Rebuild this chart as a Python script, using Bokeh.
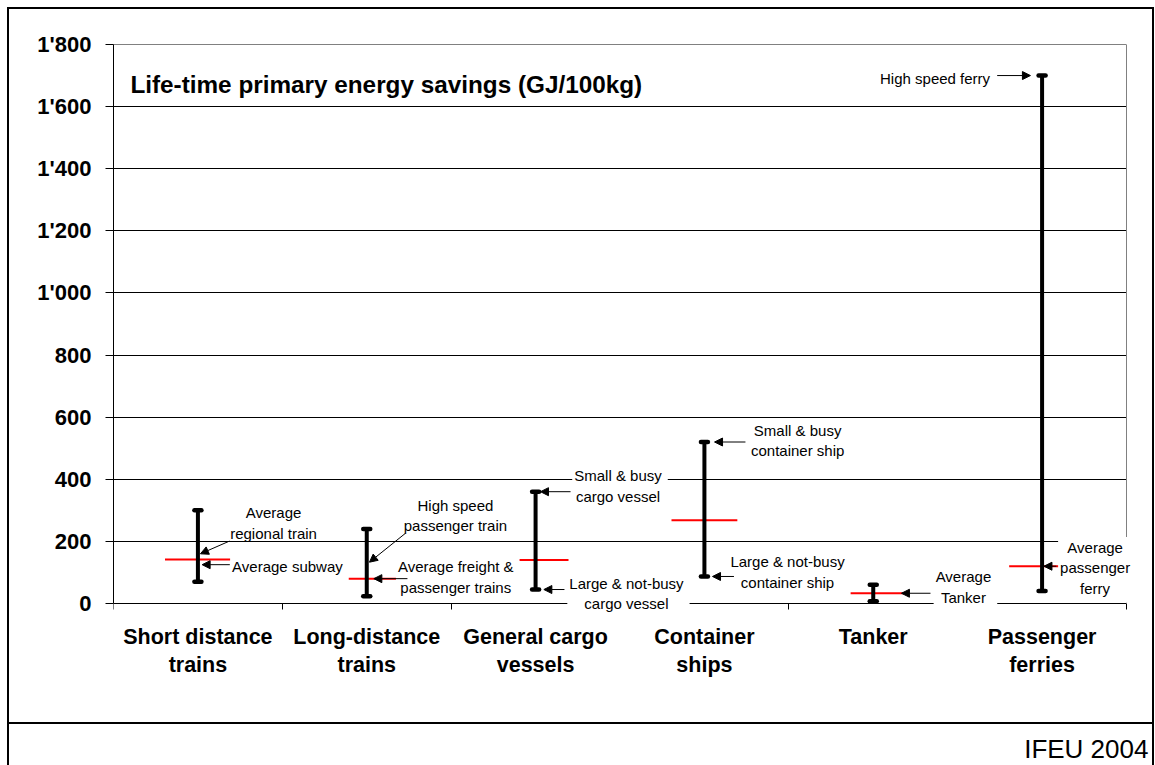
from bokeh.plotting import figure
from bokeh.models import FixedTicker, LinearAxis, Label, Arrow, NormalHead, Range1d
from bokeh.embed import file_html
from bokeh.resources import INLINE

# ---------------- data ----------------
categories = ["Short distance\ntrains", "Long-distance\ntrains", "General cargo\nvessels",
              "Container\nships", "Tanker", "Passenger\nferries"]
min_vals = [70, 23, 45, 87, 7, 40]
max_vals = [300, 240, 360, 520, 60, 1700]
avg_vals = [142, 80, 140, 268, 33, 120]
# sub-type values pointed at by annotation arrows (not otherwise drawn)
regional_train_avg = 160
subway_avg = 125
high_speed_train = 133

y_ticks = [0, 200, 400, 600, 800, 1000, 1200, 1400, 1600, 1800]
y_tick_labels = ["0", "200", "400", "600", "800", "1'000", "1'200", "1'400", "1'600", "1'800"]

title_text = "Life-time primary energy savings (GJ/100kg)"
source_text = "IFEU 2004"

ann_texts = ["Average\nregional train", "Average subway", "High speed\npassenger train",
             "Average freight &\npassenger trains", "Small & busy\ncargo vessel",
             "Large & not-busy\ncargo vessel", "Small & busy\ncontainer ship",
             "Large & not-busy\ncontainer ship", "Average\nTanker",
             "Average\npassenger\nferry", "High speed ferry"]
ann_values = [regional_train_avg, subway_avg, high_speed_train, avg_vals[1], max_vals[2],
              min_vals[2], max_vals[3], min_vals[3], avg_vals[4], avg_vals[5], max_vals[5]]

# ---------------- layout of annotations (positions only) ----------------
# (label_x, label_y, arrow_start_x, arrow_start_y or None for horizontal, arrow_end_x, white background)
ann_layout = [
    (0.948, 259, 0.687, 201, 0.515, False),
    (1.042, 114, 0.689, None, 0.525, True),
    (2.037, 276, 1.729, 226, 1.516, True),
    (2.039, 79, 1.741, None, 1.542, True),
    (3.000, 372, 2.707, None, 2.529, True),
    (3.050, 26, 2.671, None, 2.549, True),
    (4.064, 519, 3.743, None, 3.560, True),
    (4.004, 95, 3.675, None, 3.548, True),
    (5.046, 47, 4.839, None, 4.667, True),
    (5.826, 108, 5.585, None, 5.511, True),
    (4.866, 1692, 5.234, None, 5.431, False),
]

FONT = "Liberation Sans"
n = len(categories)
xc = [i + 0.5 for i in range(n)]
Y_MAX = 1800
# the frame reaches past the category area so that labels below zero and the
# footer are not clipped; the axes are pinned at the chart's own edges.
X_END = n + 24 / 168.833
Y_MIN = -157 * Y_MAX / 559

p = figure(frame_width=1037, frame_height=716,
           min_border_left=113, min_border_right=5, min_border_top=44, min_border_bottom=5,
           x_range=Range1d(0, X_END), y_range=Range1d(Y_MIN, Y_MAX),
           output_backend="svg", toolbar_location=None)
p.outline_line_color = None
p.background_fill_alpha = 0
p.border_fill_alpha = 0
# outer frame of the whole chart and the footer separator (drawn by CSS)
p.styles = {"box-shadow": ("inset 7px 0 0 0 #ffffff, inset -1px 0 0 0 #ffffff, "
                           "inset 0 7px 0 0 #ffffff, inset 9px 0 0 0 #000000, "
                           "inset -3px 0 0 0 #000000, inset 0 9px 0 0 #000000, "
                           "inset 0 -41px 0 0 #ffffff, inset 0 -43px 0 0 #000000")}

# y axis
ya = p.yaxis[0]
ya.ticker = FixedTicker(ticks=y_ticks)
ya.bounds = (0, Y_MAX)
ya.major_label_overrides = {t: lab for t, lab in zip(y_ticks, y_tick_labels)}
ya.major_label_text_font = FONT
ya.major_label_text_font_style = "bold"
ya.major_label_text_font_size = "22px"
ya.major_label_text_color = "black"
ya.major_tick_out = 8
ya.major_tick_in = 0
ya.minor_tick_out = 0
ya.minor_tick_in = 0
ya.major_label_standoff = 14
ya.axis_line_color = "black"
ya.major_tick_line_color = "black"

# x axis at zero: labels at category centres, tick marks at boundaries
xa = p.xaxis[0]
xa.fixed_location = 0
xa.bounds = (0, n)
xa.ticker = FixedTicker(ticks=xc, minor_ticks=list(range(n + 1)))
xa.major_label_overrides = {x: c for x, c in zip(xc, categories)}
xa.major_label_text_font = FONT
xa.major_label_text_font_style = "bold"
xa.major_label_text_font_size = "21.5px"
xa.major_label_text_color = "black"
xa.major_tick_out = 0
xa.major_tick_in = 0
xa.minor_tick_out = 6
xa.minor_tick_in = 0
xa.minor_tick_line_color = "black"
xa.major_label_standoff = 15
xa.axis_line_color = "black"

# gray plot-area border on top and right
top_ax = LinearAxis(ticker=FixedTicker(ticks=[]), axis_line_color="#808080", bounds=(0, n),
                    major_tick_out=0, major_tick_in=0, minor_tick_out=0, minor_tick_in=0,
                    major_label_text_font_size="0px", major_label_standoff=0)
p.add_layout(top_ax, "above")
right_ax = LinearAxis(ticker=FixedTicker(ticks=[]), axis_line_color="#808080", bounds=(0, Y_MAX),
                      fixed_location=n,
                      major_tick_out=0, major_tick_in=0, minor_tick_out=0, minor_tick_in=0,
                      major_label_text_font_size="0px", major_label_standoff=0)
p.add_layout(right_ax, "right")

p.xgrid.visible = False
p.ygrid.ticker = FixedTicker(ticks=y_ticks[1:-1])
p.ygrid.cross_bounds = (0, n)
p.ygrid.grid_line_color = "black"
p.ygrid.grid_line_width = 1

# average markers (red)
p.segment(x0=[x - 0.195 for x in xc], x1=[x + 0.195 for x in xc], y0=avg_vals, y1=avg_vals,
          line_color="#FF0000", line_width=2)
# ranges
p.segment(x0=xc, x1=xc, y0=min_vals, y1=max_vals, line_color="black", line_width=4)
p.scatter(x=xc + xc, y=min_vals + max_vals, marker="dash", size=7, line_width=4.5,
          line_cap="round", line_color="black")

# title inside plot
p.add_layout(Label(x=0.10, y=1671, text=title_text, text_font=FONT, text_font_style="bold",
                   text_font_size="24.3px", text_color="black", text_align="left",
                   text_baseline="middle"))

# annotation labels
for txt, (lx, ly, sx, sy, ex, bg) in zip(ann_texts, ann_layout):
    kw = {}
    if bg:
        kw = dict(background_fill_color="white", padding=(2, 6, 2, 6))
    p.add_layout(Label(x=lx, y=ly, text=txt, text_font=FONT, text_font_size="15px",
                       text_color="black", text_align="center", text_baseline="middle",
                       text_line_height=1.2, **kw))
# arrows on top
for val, (lx, ly, sx, sy, ex, bg) in zip(ann_values, ann_layout):
    p.add_layout(Arrow(end=NormalHead(size=8, fill_color="black", line_color="black", line_width=1),
                       x_start=sx, y_start=(val if sy is None else sy), x_end=ex, y_end=val,
                       line_color="black", line_width=1))

# source footer (bottom-right corner)
p.add_layout(Label(x=6.130, y=-467, text=source_text, text_font=FONT, text_font_size="26px",
                   text_color="black", text_align="right", text_baseline="middle"))

open("out.html", "w").write(file_html(p, INLINE))
